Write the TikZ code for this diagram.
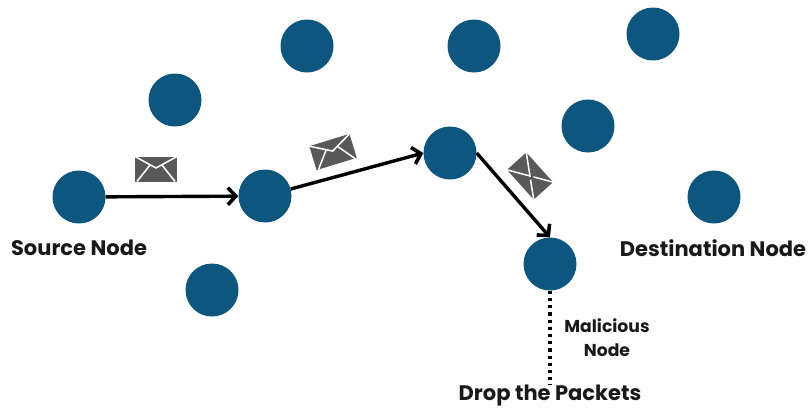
\documentclass[tikz,border=0pt]{standalone}
\usepackage{fontspec}
\setmainfont{Poppins}
\usepackage{xcolor}
\usetikzlibrary{arrows.meta,positioning}
\definecolor{nodeblue}{HTML}{0D5680}
\definecolor{mailgray}{HTML}{595959}
\tikzset{
  netnode/.style   = {circle, fill=nodeblue, minimum size=53pt, inner sep=0pt},
  hopflow/.style   = {-{Straight Barb[length=8pt,width=17pt,line width=3.6pt]}, draw=black, line width=3.4pt},
  droplink/.style  = {draw=black, line width=3.2pt, dash pattern=on 3.2pt off 4pt},
  netlbl/.style    = {font=\fontsize{21}{24}\selectfont\bfseries, inner sep=0pt, text=black!90},
  smalllbl/.style  = {font=\fontsize{17.2}{24}\selectfont\bfseries, align=center, inner sep=0pt, text=black!90},
  maillines/.style = {draw=white, line width=1.5pt},
  mail/.pic = {
    \fill[mailgray] (-21,-12.5) rectangle (21,12.5);
    \draw[maillines] (-21,-12.5) -- (0,-1) -- (21,-12.5);
    \draw[maillines] (-19,12.5) -- (-6,-4);
    \draw[maillines] (19,12.5) -- (6,-4);
  },
  mailside/.pic = {
    \fill[mailgray] (-20,-13) rectangle (20,13);
    \draw[maillines] (-20,-13) -- (0,0) -- (-20,13);
    \draw[maillines] (20,-13) -- (3,-2);
    \draw[maillines] (20,13) -- (3,2);
  },
}

\begin{document}
\begin{tikzpicture}[x=1pt,y=-1pt]
  \useasboundingbox (0,0) rectangle (810,407);
  \node[netnode] (src)  at (79,197)  {};
  \node[netnode] (n1)   at (175,100) {};
  \node[netnode] (n2)   at (307,46)  {};
  \node[netnode] (n3)   at (212,290) {};
  \node[netnode] (hop1) at (265,196) {};
  \node[netnode] (hop2) at (450,153) {};
  \node[netnode] (n4)   at (474,46)  {};
  \node[netnode] (n5)   at (588,126) {};
  \node[netnode] (n6)   at (653,34)  {};
  \node[netnode] (dest) at (714,197) {};
  \node[netnode] (bad)  at (550,264) {};

  \draw[hopflow] (src) -- (hop1);
  \draw[hopflow] (hop1) -- (hop2.west);
  \draw[hopflow] (hop2.east) -- (bad.north);
  \node[netlbl] (srclbl)  at (79,248)  {Source Node};
  \node[netlbl] (destlbl) at (713,248) {Destination Node};
  \node[netlbl] (droplbl) at (550,396) {Drop the Packets};
  \node[smalllbl] (mallbl) at (607,338) {Malicious\\Node};
  \draw[droplink] (bad) -- (droplbl);

  \pic at (156,169) {mail};
  \pic[rotate=17] at (333,152) {mail};
  \pic[rotate=-48] at (530,176) {mailside};
\end{tikzpicture}
\end{document}
